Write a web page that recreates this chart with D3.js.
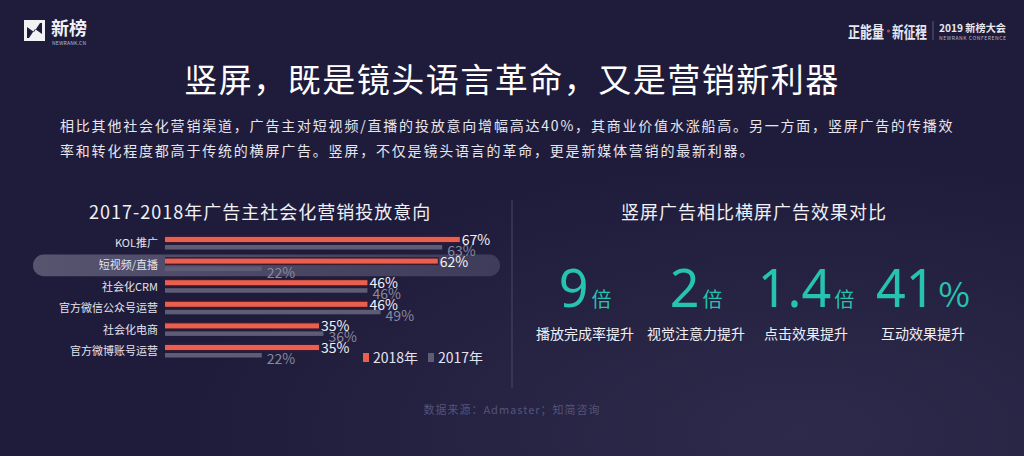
<!DOCTYPE html>
<html>
<head>
<meta charset="utf-8">
<script src="https://cdn.jsdelivr.net/npm/d3@7"></script>
<style>
  html, body { margin: 0; padding: 0; background: #1f1c3b; }
  svg { display: block; font-family: "Noto Sans CJK SC", "Noto Sans", sans-serif; }
</style>
</head>
<body>
<svg id="chart" width="1024" height="456"></svg>
<script>
// bar chart data
const categories = ['KOL推广', '短视频/直播', '社会化CRM', '官方微信公众号运营', '社会化电商', '官方微博账号运营'];
const values2018 = [67, 62, 46, 46, 35, 35];
const values2017 = [63, 22, 46, 49, 36, 22];
const seriesNames = ['2018年', '2017年'];

// big number cards
const cardNumbers = ['9', '2', '1.4', '41'];
const cardUnits = ['倍', '倍', '倍', '%'];
const cardLabels = ['播放完成率提升', '视觉注意力提升', '点击效果提升', '互动效果提升'];

const title = '竖屏，既是镜头语言革命，又是营销新利器';
const paragraph = [
    '相比其他社会化营销渠道，广告主对短视频/直播的投放意向增幅高达40%，其商业价值水涨船高。另一方面，竖屏广告的传播效',
    '率和转化程度都高于传统的横屏广告。竖屏，不仅是镜头语言的革命，更是新媒体营销的最新利器。'
];
const leftTitle = '2017-2018年广告主社会化营销投放意向';
const rightTitle = '竖屏广告相比横屏广告效果对比';
const source = '数据来源：Admaster；知简咨询';

const width = 1024, height = 456;
const svg = d3.select('#chart');

// background
var defs = svg.append('defs');
var bg = defs.append('radialGradient').attr('id', 'bg')
    .attr('cx', 0.78).attr('cy', 0.95).attr('r', 0.6);
bg.append('stop').attr('offset', '0%').attr('stop-color', '#2d2a4b');
bg.append('stop').attr('offset', '100%').attr('stop-color', '#1f1c3b');
var pill = defs.append('linearGradient').attr('id', 'pill');
pill.append('stop').attr('offset', '0%').attr('stop-color', '#56546f');
pill.append('stop').attr('offset', '100%').attr('stop-color', '#3e3c5a');

svg.append('rect').attr('width', width).attr('height', height).attr('fill', 'url(#bg)');

// logo left
var logo = svg.append('g');
logo.append('rect').attr('x', 24).attr('y', 20).attr('width', 21).attr('height', 21).attr('fill', '#f2f2f6');
logo.append('path').attr('d', 'M27,38 L27,27 L34,32 L40,23 L42,23 L42,34 L35,29 L29,38 Z').attr('fill', '#1f1c3b');
logo.append('text').attr('x', 51).attr('y', 35).attr('fill', '#f2f2f6')
    .style('font-size', '18px').style('font-weight', 700).text('新榜');
logo.append('text').attr('x', 52).attr('y', 44.5).attr('fill', '#b8b8c8')
    .style('font-size', '5px').attr('textLength', 34).text('NEWRANK.CN');

// logo right
var logoR = svg.append('g');
logoR.append('text').attr('x', 848).attr('y', 38).attr('fill', '#e8e8f0')
    .attr('textLength', 36).attr('lengthAdjust', 'spacingAndGlyphs')
    .style('font-size', '16px').style('font-weight', 700).text('正能量');
logoR.append('circle').attr('cx', 888.5).attr('cy', 31).attr('r', 1.6).attr('fill', '#c0405a');
logoR.append('text').attr('x', 892).attr('y', 38).attr('fill', '#e8e8f0')
    .attr('textLength', 35).attr('lengthAdjust', 'spacingAndGlyphs')
    .style('font-size', '16px').style('font-weight', 700).text('新征程');
logoR.append('line').attr('x1', 933).attr('x2', 933).attr('y1', 21).attr('y2', 40)
    .attr('stroke', '#6a6888').attr('stroke-width', 0.8);
logoR.append('text').attr('x', 939).attr('y', 31.5).attr('fill', '#e8e8f0')
    .attr('textLength', 67).attr('lengthAdjust', 'spacingAndGlyphs')
    .style('font-size', '10px').style('font-weight', 700).text('2019 新榜大会');
logoR.append('text').attr('x', 939).attr('y', 40).attr('fill', '#b8b8c8')
    .attr('textLength', 67)
    .style('font-size', '5px').text('NEWRANK CONFERENCE');

// title + paragraph
svg.append('text').attr('x', width / 2).attr('y', 92).attr('text-anchor', 'middle')
    .attr('fill', '#ffffff').style('font-size', '33px').style('letter-spacing', '1.5px')
    .text(title);

svg.selectAll('.para').data(paragraph).enter().append('text')
    .attr('class', 'para')
    .attr('x', 60).attr('y', (d, i) => 131 + i * 25)
    .attr('fill', '#e6e6ee').style('font-size', '14px').style('letter-spacing', '1.8px')
    .text(d => d);

// sub titles
svg.append('text').attr('x', 89).attr('y', 219).attr('fill', '#f0f0f5')
    .style('font-size', '18px').style('letter-spacing', '1px').text(leftTitle);
svg.append('text').attr('x', 754).attr('y', 219).attr('text-anchor', 'middle').attr('fill', '#f0f0f5')
    .style('font-size', '18px').style('letter-spacing', '1px').text(rightTitle);

// divider
svg.append('line').attr('x1', 512).attr('x2', 512).attr('y1', 200).attr('y2', 388)
    .attr('stroke', '#4a4866').attr('stroke-width', 1);

// ---- bar chart ----
var x = d3.scaleLinear().domain([0, 100]).range([165, 605]);
var y = d3.scaleBand().domain(categories).range([233, 233 + 21.6 * categories.length]);
var z = d3.scaleOrdinal().domain(seriesNames).range(['#e9604e', '#5f5d75']);

var rows = categories.map((c, i) => ({cat: c, v18: values2018[i], v17: values2017[i]}));

// highlight pill behind the second row
svg.append('rect')
    .attr('x', 33).attr('y', y(categories[1]))
    .attr('width', 500 - 33).attr('height', y.bandwidth())
    .attr('rx', y.bandwidth() / 2)
    .attr('fill', 'url(#pill)');

var bars = svg.append('g');
var row = bars.selectAll('g.row').data(rows).enter().append('g')
    .attr('class', 'row')
    .attr('transform', d => 'translate(0,' + y(d.cat) + ')');

// dark halo under the red bars
row.append('rect')
    .attr('x', x(0)).attr('y', 2.5)
    .attr('width', d => x(d.v18) - x(0) + 1).attr('height', 8)
    .attr('fill', '#3e1931');
row.append('rect')
    .attr('x', x(0)).attr('y', 4)
    .attr('width', d => x(d.v18) - x(0)).attr('height', 5)
    .attr('fill', z('2018年'));
row.append('rect')
    .attr('x', x(0)).attr('y', 12)
    .attr('width', d => x(d.v17) - x(0)).attr('height', 4.5)
    .attr('fill', z('2017年'));

row.append('text')
    .attr('x', 158).attr('y', 10.5).attr('dy', '0.35em')
    .attr('text-anchor', 'end').attr('fill', '#e4e4ee')
    .style('font-size', '11px')
    .text(d => d.cat);

row.append('text')
    .attr('x', d => x(d.v18) + 2).attr('y', 12)
    .attr('fill', '#f2f2f8').style('font-size', '14px')
    .text(d => d.v18 + '%');
row.append('text')
    .attr('x', d => x(d.v17) + 5).attr('y', 23)
    .attr('fill', '#8a889e').style('font-size', '14px')
    .text(d => d.v17 + '%');

// legend
var legend = svg.append('g').attr('transform', 'translate(363,353)');
var li = legend.selectAll('g').data(seriesNames).enter().append('g')
    .attr('transform', (d, i) => 'translate(' + i * 65 + ',0)');
li.append('rect').attr('width', 6).attr('height', 9).attr('fill', d => z(d));
li.append('text').attr('x', 10).attr('y', 9.5)
    .attr('fill', '#e4e4ee').style('font-size', '14px').text(d => d);

// ---- number cards ----
var cardX = [585, 696, 806, 923];
var cards = svg.selectAll('g.card').data(cardLabels).enter().append('g')
    .attr('class', 'card')
    .attr('transform', (d, i) => 'translate(' + cardX[i] + ',0)');

var num = cards.append('text').attr('y', 307).attr('text-anchor', 'middle')
    .attr('fill', '#27c3b1').style('font-family', '"Noto Sans", sans-serif');
num.append('tspan').style('font-size', '52px').text((d, i) => cardNumbers[i]);
num.append('tspan').attr('dx', 3)
    .style('font-size', (d, i) => cardUnits[i] === '%' ? '34px' : '20px')
    .style('font-family', '"Noto Sans CJK SC", sans-serif')
    .text((d, i) => cardUnits[i]);

cards.append('text').attr('y', 339).attr('text-anchor', 'middle')
    .attr('fill', '#f0f0f5').style('font-size', '14px')
    .text(d => d);

// source
svg.append('text').attr('x', width / 2).attr('y', 414).attr('text-anchor', 'middle')
    .attr('fill', '#55537a').style('font-size', '11px').style('letter-spacing', '1px')
    .text(source);
</script>
</body>
</html>
